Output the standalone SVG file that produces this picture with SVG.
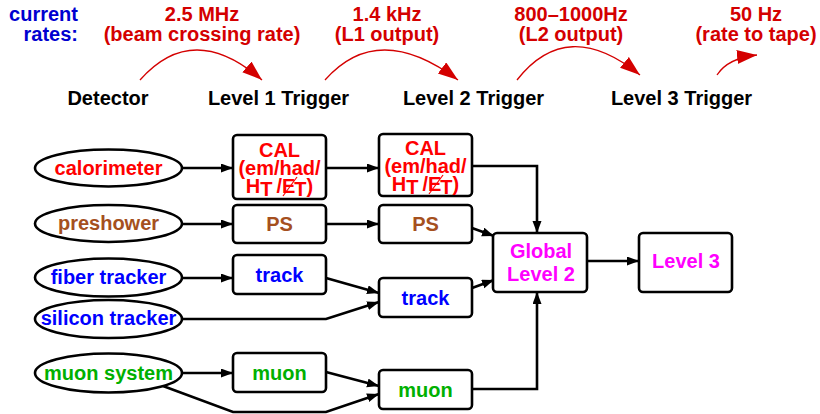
<svg xmlns="http://www.w3.org/2000/svg" width="820" height="414" viewBox="0 0 820 414">
<style>
text{font-family:"Liberation Sans",Arial,sans-serif;font-weight:bold;font-size:20px;text-anchor:middle}
.box{fill:#fff;stroke:#000;stroke-width:2.6}
.ell{fill:#fff;stroke:#000;stroke-width:2.6}
.con{fill:none;stroke:#000;stroke-width:2.6;marker-end:url(#ah)}
.arc{fill:none;stroke:#d40000;stroke-width:1.3;marker-end:url(#rah)}
.hd{fill:#d40000}
.bl{fill:#0000d0}
.red{fill:#ff0000}
.brn{fill:#a5501e}
.blu{fill:#0000ff}
.grn{fill:#00b000}
.mag{fill:#ff00ff}
.blk{fill:#000}
</style>
<defs>
<marker id="ah" markerUnits="userSpaceOnUse" markerWidth="13" markerHeight="10" refX="12" refY="4.5" orient="auto" viewBox="0 0 13 10">
<path d="M0,0 L12,4.5 L0,9 z" fill="#000"/>
</marker>
<marker id="rah" markerUnits="userSpaceOnUse" markerWidth="22" markerHeight="16" refX="20" refY="7" orient="auto" viewBox="0 0 22 16">
<path d="M0,0 L20,7 L0,14 z" fill="#d40000"/>
</marker>
</defs>

<g id="header">
<text class="bl" x="78" y="21" style="text-anchor:end">current</text>
<text class="bl" x="78" y="40.5" style="text-anchor:end">rates:</text>
<text class="hd" x="202" y="21">2.5 MHz</text>
<text class="hd" x="202" y="40.5">(beam crossing rate)</text>
<text class="hd" x="387" y="21">1.4 kHz</text>
<text class="hd" x="387" y="40.5">(L1 output)</text>
<text class="hd" x="571" y="21">800–1000Hz</text>
<text class="hd" x="571" y="40.5">(L2 output)</text>
<text class="hd" x="756" y="21">50 Hz</text>
<text class="hd" x="756" y="40.5">(rate to tape)</text>
<text class="blk" x="108" y="105">Detector</text>
<text class="blk" x="278.5" y="105">Level 1 Trigger</text>
<text class="blk" x="473.5" y="105">Level 2 Trigger</text>
<text class="blk" x="681.5" y="105">Level 3 Trigger</text>
</g>

<g id="rate-arcs">
<path class="arc" d="M140,80 Q193,20 262,80"/>
<path class="arc" d="M325,80 Q378,20 458,80"/>
<path class="arc" d="M517,80 Q567,16 640,75"/>
<path class="arc" d="M717,75 Q728,58 757,55"/>
</g>

<g id="connectors">
<path class="con" d="M182,168 H233"/>
<path class="con" d="M326,168 H379"/>
<path class="con" d="M472,166 H537 V233"/>
<path class="con" d="M182,224 H233"/>
<path class="con" d="M326,224 H379"/>
<path class="con" d="M472,228 L494,236"/>
<path class="con" d="M182,278 H233"/>
<path class="con" d="M326,278 L379,293"/>
<path class="con" d="M182,319 H326 L379,302"/>
<path class="con" d="M472,288 L494,280"/>
<path class="con" d="M182,373 H233"/>
<path class="con" d="M326,372 L379,386"/>
<path class="con" d="M163,386 L233,412 H326 L379,394"/>
<path class="con" d="M472,389 H537 V292"/>
<path class="con" d="M587,261 H639"/>
</g>

<g id="calorimeter">
<ellipse class="ell" cx="108.5" cy="168" rx="73.5" ry="18.5"/>
<text class="red" x="108.5" y="174.5">calorimeter</text>
</g>
<g id="preshower">
<ellipse class="ell" cx="108.5" cy="223.5" rx="73.5" ry="18.5"/>
<text class="brn" x="108.5" y="230">preshower</text>
</g>
<g id="fiber-tracker">
<ellipse class="ell" cx="108.5" cy="277.5" rx="73.5" ry="19"/>
<text class="blu" x="108.5" y="283.5">fiber tracker</text>
</g>
<g id="silicon-tracker">
<ellipse class="ell" cx="108.5" cy="319" rx="73.5" ry="19"/>
<text class="blu" x="108.5" y="325">silicon tracker</text>
</g>
<g id="muon-system">
<ellipse class="ell" cx="108.5" cy="373" rx="73.5" ry="19.5"/>
<text class="grn" x="108.5" y="379.5">muon system</text>
</g>

<g id="l1-cal">
<rect class="box" x="233" y="135" width="93" height="64" rx="4"/>
<text class="red" x="279.5" y="157">CAL</text>
<text class="red" x="279.5" y="175">(em/had/</text>
<text class="red" x="279.5" y="193">H<tspan dy="3">T</tspan><tspan dy="-3" dx="4">/</tspan>E<tspan dy="3" dx="-1">T</tspan><tspan dy="-3">)</tspan></text>
<line x1="283" y1="196" x2="297" y2="177" stroke="#ff0000" stroke-width="1.2"/>
</g>
<g id="l2-cal">
<rect class="box" x="379" y="134" width="93" height="62" rx="4"/>
<text class="red" x="425.5" y="155">CAL</text>
<text class="red" x="425.5" y="173">(em/had/</text>
<text class="red" x="425.5" y="191">H<tspan dy="3">T</tspan><tspan dy="-3" dx="4">/</tspan>E<tspan dy="3" dx="-1">T</tspan><tspan dy="-3">)</tspan></text>
<line x1="429" y1="194" x2="443" y2="175" stroke="#ff0000" stroke-width="1.2"/>
</g>
<g id="l1-ps">
<rect class="box" x="233" y="205" width="93" height="38" rx="4"/>
<text class="brn" x="279.5" y="231">PS</text>
</g>
<g id="l2-ps">
<rect class="box" x="379" y="205" width="93" height="38" rx="4"/>
<text class="brn" x="425.5" y="231">PS</text>
</g>
<g id="l1-track">
<rect class="box" x="233" y="255" width="93" height="39" rx="4"/>
<text class="blu" x="279.5" y="282">track</text>
</g>
<g id="l2-track">
<rect class="box" x="379" y="278" width="93" height="39" rx="4"/>
<text class="blu" x="425.5" y="305">track</text>
</g>
<g id="l1-muon">
<rect class="box" x="233" y="353" width="93" height="39" rx="4"/>
<text class="grn" x="279.5" y="380">muon</text>
</g>
<g id="l2-muon">
<rect class="box" x="379" y="370" width="93" height="39" rx="4"/>
<text class="grn" x="425.5" y="397">muon</text>
</g>
<g id="global-l2">
<rect class="box" x="493" y="233" width="94" height="59" rx="4"/>
<text class="mag" x="541" y="258">Global</text>
<text class="mag" x="541" y="281">Level 2</text>
</g>
<g id="level3">
<rect class="box" x="639" y="233" width="93" height="59" rx="4"/>
<text class="mag" x="686" y="268">Level 3</text>
</g>
</svg>
